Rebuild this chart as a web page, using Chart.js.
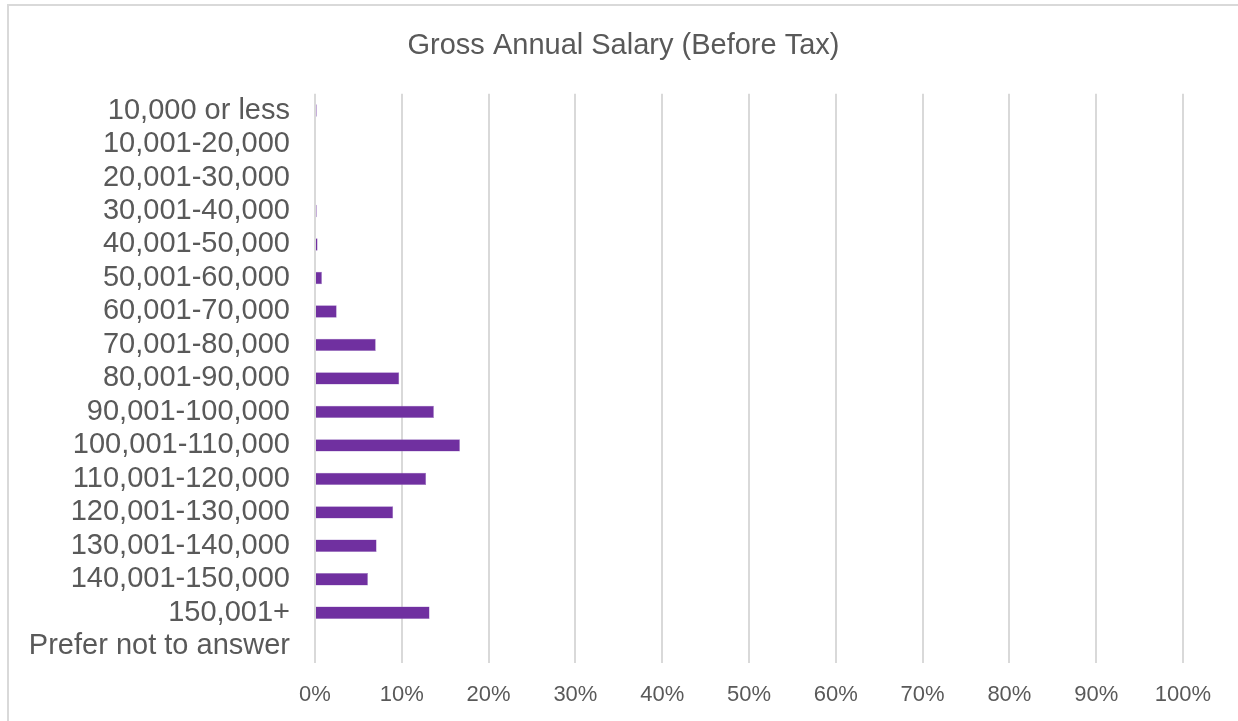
<!DOCTYPE html>
<html>
<head>
<meta charset="utf-8">
<script src="https://cdn.jsdelivr.net/npm/chart.js@4/dist/chart.umd.min.js"></script>
<style>
  html, body { margin: 0; padding: 0; background: #fff; }
  #wrap {
    position: absolute; left: 7px; top: 4px; width: 1231px; height: 717px;
    border-left: 2px solid #d9d9d9; border-top: 2px solid #d9d9d9;
    box-sizing: border-box;
  }
</style>
</head>
<body>
<div id="wrap"><canvas id="salaryChart"></canvas></div>
<script>
// Salary bands and share of respondents (%)
const salaryBands = [
    '10,000 or less', '10,001-20,000', '20,001-30,000', '30,001-40,000',
    '40,001-50,000', '50,001-60,000', '60,001-70,000', '70,001-80,000',
    '80,001-90,000', '90,001-100,000', '100,001-110,000', '110,001-120,000',
    '120,001-130,000', '130,001-140,000', '140,001-150,000', '150,001+',
    'Prefer not to answer'
];
const sharePercent = [0.2, 0, 0, 0.2, 0.3, 0.8, 2.5, 7.0, 9.7, 13.7, 16.7, 12.8, 9.0, 7.1, 6.1, 13.2, 0];
const xTickValues = [0, 10, 20, 30, 40, 50, 60, 70, 80, 90, 100];

// centre the title over the whole canvas, not over the padded area
const centerTitle = {
    id: 'centerTitle',
    afterLayout(chart) {
        const t = chart.titleBlock;
        if (t) { t.left = 0; t.right = chart.width; t.width = chart.width; }
    }
};

function renderSalaryChart() {
    const ctx = document.getElementById('salaryChart').getContext('2d');
    new Chart(ctx, {
        type: 'bar',
        data: {
            labels: salaryBands,
            datasets: [{
                label: 'Share',
                data: sharePercent,
                backgroundColor: '#7030A0',
                borderColor: '#a07cc5',
                borderWidth: 0.5,
                barPercentage: 0.37,
                categoryPercentage: 1
            }]
        },
        plugins: [centerTitle],
        options: {
            indexAxis: 'y',
            responsive: true,
            maintainAspectRatio: false,
            animation: false,
            layout: { padding: { left: 10, right: 55, top: 0, bottom: 0 } },
            plugins: {
                legend: { display: false },
                tooltip: { enabled: false },
                title: {
                    display: true,
                    text: 'Gross Annual Salary (Before Tax)',
                    color: '#595959',
                    font: { family: 'Liberation Sans, Arial, sans-serif', size: 29, weight: 'normal' },
                    padding: { top: 23, bottom: 30 }
                }
            },
            scales: {
                x: {
                    min: 0,
                    max: 100,
                    afterBuildTicks: (scale) => { scale.ticks = xTickValues.map(v => ({ value: v })); },
                    afterFit: (scale) => { scale.height = 58; },
                    ticks: {
                        color: '#595959',
                        font: { family: 'Liberation Sans, Arial, sans-serif', size: 22 },
                        padding: 19,
                        callback: (v) => v + '%'
                    },
                    grid: { color: '#d9d9d9', lineWidth: 2, drawTicks: false },
                    border: { display: false }
                },
                y: {
                    afterFit: (scale) => { scale.width = 296; },
                    ticks: {
                        color: '#595959',
                        font: { family: 'Liberation Sans, Arial, sans-serif', size: 29 },
                        padding: 25,
                        autoSkip: false
                    },
                    grid: { display: false, drawTicks: false },
                    border: { display: false }
                }
            }
        }
    });
}

document.addEventListener('DOMContentLoaded', renderSalaryChart);
</script>
</body>
</html>
